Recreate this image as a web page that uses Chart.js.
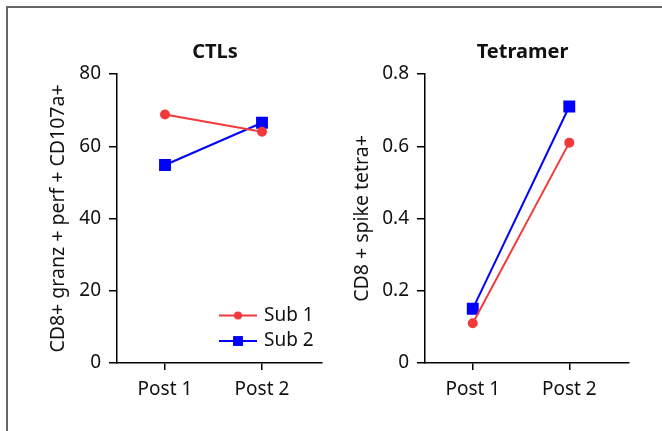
<!DOCTYPE html>
<html><head><meta charset="utf-8">
<script src="https://cdn.jsdelivr.net/npm/chart.js@4/dist/chart.umd.min.js"></script>
<style>
html,body{margin:0;padding:0;background:#fff;}
#wrap{position:relative;width:662px;height:431px;overflow:hidden;background:#fff;}
#frame{position:absolute;left:6px;top:6px;width:700px;height:500px;border-top:2px solid #666;border-left:2px solid #666;}
canvas{position:absolute;top:0;}
</style></head>
<body>
<div id="wrap">
<div id="frame"></div>
<canvas id="c1" width="331" height="431" style="left:0"></canvas>
<canvas id="c2" width="331" height="431" style="left:331px"></canvas>
</div>
<script>
const categories = ['Post 1', 'Post 2'];
const seriesNames = ['Sub 1', 'Sub 2'];
const ctlSub1 = [68.8, 64.0];
const ctlSub2 = [54.8, 66.5];
const tetSub1 = [0.11, 0.61];
const tetSub2 = [0.15, 0.71];
const ctlTicks = [0, 20, 40, 60, 80];
const tetTicks = [0, 0.2, 0.4, 0.6, 0.8];

const FONT = "'Noto Sans', 'Open Sans', sans-serif";
const RED = '#F23A3A';
const BLUE = '#0000FF';
const TXT = '#111';

function pts(vals){ return vals.map((v,i)=>({x:i+1, y:v})); }

function makeDatasets(a, b){
  return [
    {label: seriesNames[0], data: pts(a), borderColor: RED, backgroundColor: RED, borderWidth: 2,
     pointStyle: 'circle', pointRadius: 4, pointHoverRadius: 4},
    {label: seriesNames[1], data: pts(b), borderColor: BLUE, backgroundColor: BLUE, borderWidth: 2,
     pointStyle: 'rect', pointRadius: 7, pointHoverRadius: 7}
  ];
}

const titlePlugin = {
  id: 'panelTitle',
  afterDraw(chart, args, opts){
    const ctx = chart.ctx, a = chart.chartArea;
    ctx.save();
    ctx.font = 'bold 20px ' + FONT;
    ctx.fillStyle = TXT;
    ctx.textAlign = 'center';
    ctx.textBaseline = 'alphabetic';
    ctx.fillText(opts.text, (a.left + a.right)/2 - 4.5, 57.5);
    ctx.restore();
  }
};

const legendPlugin = {
  id: 'inLegend',
  afterDraw(chart, args, opts){
    if (!opts.show) return;
    const ctx = chart.ctx;
    const x0 = 219, x1 = 257, ys = [315.5, 341];
    chart.data.datasets.forEach((ds, i) => {
      const y = ys[i];
      ctx.save();
      ctx.strokeStyle = ds.borderColor; ctx.lineWidth = 2;
      ctx.beginPath(); ctx.moveTo(x0, y); ctx.lineTo(x1, y); ctx.stroke();
      ctx.fillStyle = ds.backgroundColor;
      const cx = (x0 + x1)/2;
      if (ds.pointStyle === 'rect') {
        const s = ds.pointRadius * Math.SQRT1_2;
        ctx.fillRect(cx - s, y - s, 2*s, 2*s);
      } else {
        ctx.beginPath(); ctx.arc(cx, y, ds.pointRadius, 0, Math.PI*2); ctx.fill();
      }
      ctx.font = '19px ' + FONT;
      ctx.fillStyle = TXT;
      ctx.textAlign = 'left';
      ctx.textBaseline = 'middle';
      ctx.fillText(ds.label, 264, y);
      ctx.restore();
    });
  }
};

function makeChart(id, datasets, yTicks, yTitle, yWidth, yTitlePad, rightPad, title, showLegend){
  return new Chart(document.getElementById(id), {
    type: 'line',
    data: {datasets},
    plugins: [titlePlugin, legendPlugin],
    options: {
      responsive: false,
      animation: false,
      devicePixelRatio: 1,
      layout: {padding: {left: 0, right: rightPad, top: 74, bottom: 0}},
      plugins: {
        legend: {display: false},
        tooltip: {enabled: false},
        title: {display: false},
        panelTitle: {text: title},
        inLegend: {show: showLegend}
      },
      scales: {
        x: {
          type: 'linear',
          min: 1 - 48/97,
          max: 2 + 60/97,
          afterBuildTicks: s => { s.ticks = categories.map((c,i)=>({value: i+1})); },
          afterFit: s => { s.height = 68; },
          ticks: {
            callback: v => categories[v-1],
            color: TXT, font: {family: FONT, size: 19}, padding: 8, maxRotation: 0, autoSkip: false
          },
          grid: {drawOnChartArea: false, drawTicks: true, tickLength: 7, color: '#000', lineWidth: 1.5},
          border: {display: true, color: '#000', width: 1.5}
        },
        y: {
          min: yTicks[0],
          max: yTicks[yTicks.length-1],
          afterBuildTicks: s => { s.ticks = yTicks.map(v=>({value: v})); },
          afterFit: s => { s.width = yWidth; },
          ticks: {color: TXT, font: {family: FONT, size: 19}, padding: 8},
          grid: {drawOnChartArea: false, drawTicks: true, tickLength: 8, color: '#000', lineWidth: 1.5},
          border: {display: true, color: '#000', width: 1.5},
          title: {display: true, text: yTitle, color: TXT, font: {family: FONT, size: 19.5}, padding: {top: yTitlePad, bottom: 0}}
        }
      }
    }
  });
}

makeChart('c1', makeDatasets(ctlSub1, ctlSub2), ctlTicks, 'CD8+ granz + perf + CD107a+', 117, 47, 9, 'CTLs', true);
makeChart('c2', makeDatasets(tetSub1, tetSub2), tetTicks, 'CD8 + spike tetra+', 94, 20, 33, 'Tetramer', false);
</script>
</body></html>
